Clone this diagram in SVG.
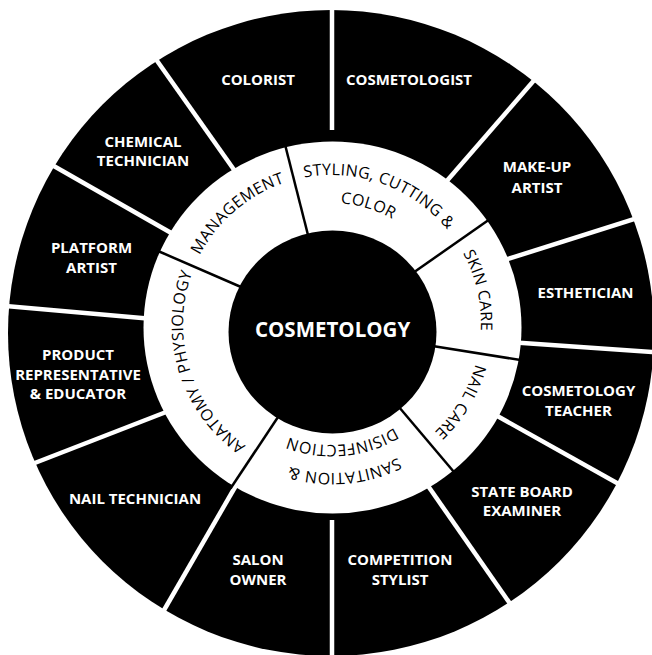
<svg xmlns="http://www.w3.org/2000/svg" width="652" height="655" viewBox="0 0 652 655">
<style>
.lbl{font-family:"Open Sans","Liberation Sans",sans-serif;font-weight:700;font-size:15px;fill:#fff;text-anchor:middle}
.ctr{font-family:"Open Sans","Liberation Sans",sans-serif;font-weight:700;font-size:20.5px;fill:#fff;text-anchor:middle}
.ring{font-family:"Open Sans","Liberation Sans",sans-serif;font-weight:400;font-size:16px;fill:#000;text-anchor:middle;letter-spacing:0.3px}
.wdiv{stroke:#fff;stroke-width:4.5;fill:none}
.bdiv{stroke:#000;stroke-width:2.5;fill:none}
</style>
<defs>
<path id="r149" d="M332 473 A149 149 0 1 1 332 175 A149 149 0 1 1 332 473 A149 149 0 1 1 332 175 A149 149 0 1 1 332 473"/>
<path id="r121" d="M332 445 A121 121 0 1 1 332 203 A121 121 0 1 1 332 445 A121 121 0 1 1 332 203 A121 121 0 1 1 332 445"/>
</defs>
<rect width="652" height="655" fill="#fff"/>
<circle id="outer-ring" cx="331" cy="333" r="323" fill="#000"/>
<g id="connectors">
<line class="wdiv" x1="332" y1="130" x2="332" y2="0"/>
<line class="wdiv" x1="445.5" y1="182.5" x2="543" y2="70"/>
<line class="wdiv" x1="501.5" y1="261" x2="663" y2="210"/>
<line class="wdiv" x1="512" y1="342.3" x2="665" y2="353"/>
<line class="wdiv" x1="492" y1="413" x2="633" y2="492"/>
<line class="wdiv" x1="426" y1="483" x2="520" y2="618"/>
<line class="wdiv" x1="332" y1="520" x2="332" y2="660"/>
<line class="wdiv" x1="238" y1="482" x2="156" y2="624"/>
<line class="wdiv" x1="170" y1="410.5" x2="18" y2="469.5"/>
<line class="wdiv" x1="153" y1="319" x2="-5" y2="305"/>
<line class="wdiv" x1="173" y1="234" x2="38" y2="157"/>
<line class="wdiv" x1="237" y1="174" x2="148" y2="48"/>
</g>
<ellipse id="middle-ring" cx="332.5" cy="327.5" rx="189" ry="186" fill="#fff"/>
<g id="ring-connectors">
<line class="bdiv" x1="308" y1="235" x2="284.5" y2="142.5"/>
<line class="bdiv" x1="415" y1="271.5" x2="490" y2="219"/>
<line class="bdiv" x1="431" y1="345.8" x2="522" y2="360.3"/>
<line class="bdiv" x1="396" y1="403.5" x2="456.5" y2="475"/>
<line class="bdiv" x1="281" y1="412.5" x2="230.5" y2="488.5"/>
<line class="bdiv" x1="241" y1="287" x2="158" y2="251"/>
</g>
<g id="center">
<ellipse cx="332.5" cy="332" rx="104" ry="101.5" fill="#000"/>
<text class="ctr" x="332.6" y="337">COSMETOLOGY</text>
</g>
<g id="management"><text class="ring"><textPath href="#r149" startOffset="1298.4">MANAGEMENT</textPath></text></g>
<g id="styling"><text class="ring"><textPath href="#r149" startOffset="520.1">STYLING, CUTTING &amp;</textPath></text><text class="ring"><textPath href="#r121" startOffset="416">COLOR</textPath></text></g>
<g id="skin-care"><text class="ring"><textPath href="#r149" startOffset="668.3">SKIN CARE</textPath></text></g>
<g id="nail-care"><text class="ring"><textPath href="#r149" startOffset="782.8">NAIL CARE</textPath></text></g>
<g id="sanitation"><text class="ring"><textPath href="#r149" startOffset="923.2">SANITATION &amp;</textPath></text><text class="ring"><textPath href="#r121" startOffset="749.7">DISINFECTION</textPath></text></g>
<g id="anatomy"><text class="ring"><textPath href="#r149" startOffset="1125">ANATOMY / PHYSIOLOGY</textPath></text></g>
<g id="colorist"><text class="lbl" x="258" y="85">COLORIST</text></g>
<g id="cosmetologist"><text class="lbl" x="409" y="85">COSMETOLOGIST</text></g>
<g id="chemical-technician"><text class="lbl" x="143" y="146.5">CHEMICAL</text><text class="lbl" x="143" y="166">TECHNICIAN</text></g>
<g id="make-up-artist"><text class="lbl" x="537" y="172">MAKE-UP</text><text class="lbl" x="537" y="193">ARTIST</text></g>
<g id="platform-artist"><text class="lbl" x="91.5" y="252.5">PLATFORM</text><text class="lbl" x="91.5" y="273">ARTIST</text></g>
<g id="esthetician"><text class="lbl" x="585.5" y="298">ESTHETICIAN</text></g>
<g id="product-representative"><text class="lbl" x="78" y="360">PRODUCT</text><text class="lbl" x="78" y="379.5">REPRESENTATIVE</text><text class="lbl" x="78" y="399">&amp; EDUCATOR</text></g>
<g id="cosmetology-teacher"><text class="lbl" x="578.5" y="396">COSMETOLOGY</text><text class="lbl" x="578.5" y="416">TEACHER</text></g>
<g id="nail-technician"><text class="lbl" x="135" y="504">NAIL TECHNICIAN</text></g>
<g id="state-board-examiner"><text class="lbl" x="522" y="497">STATE BOARD</text><text class="lbl" x="522" y="516">EXAMINER</text></g>
<g id="salon-owner"><text class="lbl" x="258" y="565">SALON</text><text class="lbl" x="258" y="585">OWNER</text></g>
<g id="competition-stylist"><text class="lbl" x="400" y="565">COMPETITION</text><text class="lbl" x="400" y="585">STYLIST</text></g>
</svg>
